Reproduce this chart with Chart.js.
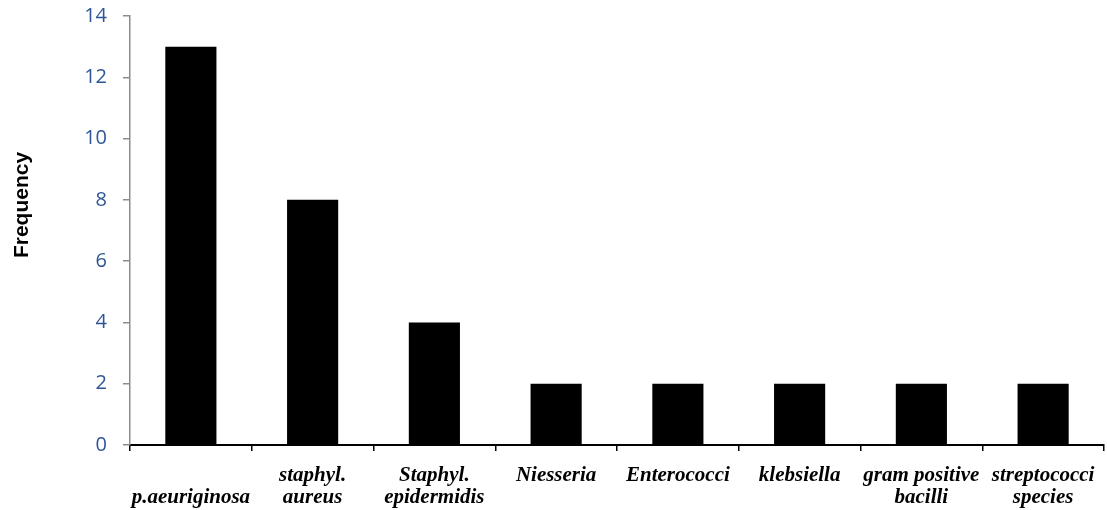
<!DOCTYPE html>
<html>
<head>
<meta charset="utf-8">
<script src="https://cdn.jsdelivr.net/npm/chart.js@4"></script>
<style>
  html, body { margin: 0; padding: 0; background: #fff; }
  #wrap { width: 1107px; height: 510px; }
</style>
</head>
<body>
<div id="wrap"><canvas id="myChart" width="1107" height="510"></canvas></div>
<script>
const categories = [
    ["", "p.aeuriginosa"],
    ["staphyl.", "aureus"],
    ["Staphyl.", "epidermidis"],
    "Niesseria",
    "Enterococci",
    "klebsiella",
    ["gram positive", "bacilli"],
    ["streptococci", "species"],
];
const frequency = [13, 8, 4, 2, 2, 2, 2, 2];
const yTicks = [0, 2, 4, 6, 8, 10, 12, 14];
const yTitle = "Frequency";

const ctx = document.getElementById("myChart").getContext("2d");

// axis title sits a bit above the middle of the axis in the original, so draw it by hand
const yTitlePlugin = {
    id: "yTitle",
    afterDraw: function (chart) {
        const c = chart.ctx;
        c.save();
        c.translate(22, 205);
        c.rotate(-Math.PI / 2);
        c.font = "bold 21px 'Liberation Sans', Arial, sans-serif";
        c.fillStyle = "#000000";
        c.textAlign = "center";
        c.textBaseline = "middle";
        c.fillText(yTitle, 0, 0);
        c.restore();
    },
};

const myChart = new Chart(ctx, {
    type: "bar",
    data: {
        labels: categories,
        datasets: [
            {
                data: frequency,
                backgroundColor: "#000000",
                borderWidth: 0,
                barPercentage: 0.42,
                categoryPercentage: 1,
            },
        ],
    },
    plugins: [yTitlePlugin],
    options: {
        responsive: false,
        animation: false,
        layout: {
            padding: { top: 16, right: 3, left: 0, bottom: 0 },
        },
        plugins: {
            legend: { display: false },
            tooltip: { enabled: false },
        },
        scales: {
            x: {
                afterFit: function (scale) {
                    scale.height = 65;
                    scale.paddingLeft = 0;
                    scale.paddingRight = 0;
                },
                border: { color: "#000000", width: 2 },
                grid: {
                    drawOnChartArea: false,
                    drawTicks: true,
                    tickLength: 6,
                    color: "#000000",
                    lineWidth: 1.5,
                    offset: true,
                },
                ticks: {
                    color: "#000000",
                    padding: 14,
                    maxRotation: 0,
                    autoSkip: false,
                    font: {
                        family: "'Liberation Serif', 'Times New Roman', serif",
                        size: 21,
                        style: "italic",
                        weight: "bold",
                        lineHeight: 1.05,
                    },
                },
            },
            y: {
                min: 0,
                max: 14,
                afterFit: function (scale) {
                    scale.width = 130;
                    scale.paddingTop = 0;
                    scale.paddingBottom = 0;
                },
                afterBuildTicks: function (scale) {
                    scale.ticks = yTicks.map(function (v) { return { value: v }; });
                },
                border: { color: "#8c8c8c", width: 1.5 },
                grid: {
                    drawOnChartArea: false,
                    drawTicks: true,
                    tickLength: 7,
                    color: "#8c8c8c",
                    lineWidth: 1.5,
                },
                ticks: {
                    color: "#2F5597",
                    padding: 16,
                    font: {
                        family: "'Open Sans', sans-serif",
                        size: 20,
                    },
                },
            },
        },
    },
});
</script>
</body>
</html>
